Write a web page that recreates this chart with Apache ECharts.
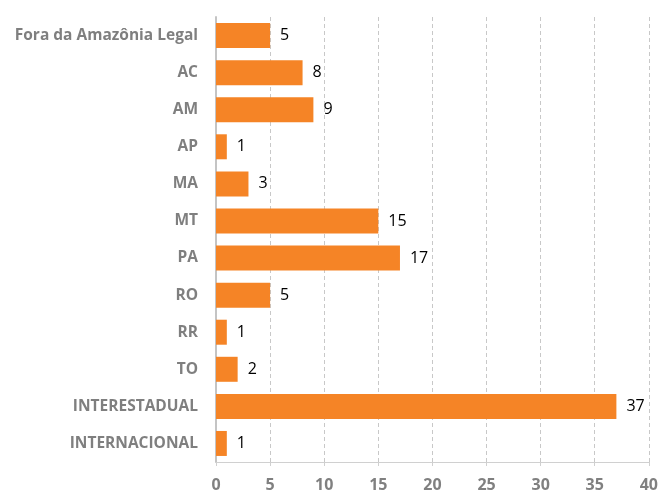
<!DOCTYPE html>
<html>
<head>
<meta charset="utf-8">
<script src="https://cdn.jsdelivr.net/npm/echarts@6/dist/echarts.min.js"></script>
<style>
  html, body { margin: 0; padding: 0; background: #fff; }
  #chart { width: 661px; height: 493px; }
</style>
</head>
<body>
<div id="chart"></div>
<script>
var categories = ["Fora da Amazônia Legal", "AC", "AM", "AP", "MA", "MT", "PA", "RO", "RR", "TO", "INTERESTADUAL", "INTERNACIONAL"];
var values = [5, 8, 9, 1, 3, 15, 17, 5, 1, 2, 37, 1];

var myChart = echarts.init(document.getElementById("chart"));
var option = {
  animation: false,
  grid: { left: 216, right: 11, top: 17, bottom: 31, containLabel: false },
  xAxis: {
    type: "value",
    min: 0,
    max: 40,
    interval: 5,
    axisLine: { show: true, lineStyle: { color: "#d0d0d0", width: 1 } },
    axisTick: { show: true, length: 4, lineStyle: { color: "#d0d0d0" } },
    axisLabel: {
      color: "#808080",
      fontFamily: "Open Sans",
      fontWeight: "bold",
      fontSize: 16,
      margin: 15
    },
    splitLine: { show: true, lineStyle: { color: "#c8c8c8", type: [4, 3] } }
  },
  yAxis: {
    type: "category",
    inverse: true,
    data: categories,
    axisLine: { show: true, lineStyle: { color: "#c4c4c4", width: 2 } },
    axisTick: { show: false },
    axisLabel: {
      color: "#7f7f7f",
      fontFamily: "Open Sans",
      fontWeight: "bold",
      fontSize: 15.5,
      margin: 18
    }
  },
  series: [
    {
      type: "bar",
      data: values,
      barWidth: 25,
      itemStyle: { color: "#F58426" },
      label: {
        show: true,
        position: "right",
        distance: 10,
        color: "#000",
        fontFamily: "Open Sans",
        fontSize: 16
      }
    }
  ]
};
myChart.setOption(option);
</script>
</body>
</html>
